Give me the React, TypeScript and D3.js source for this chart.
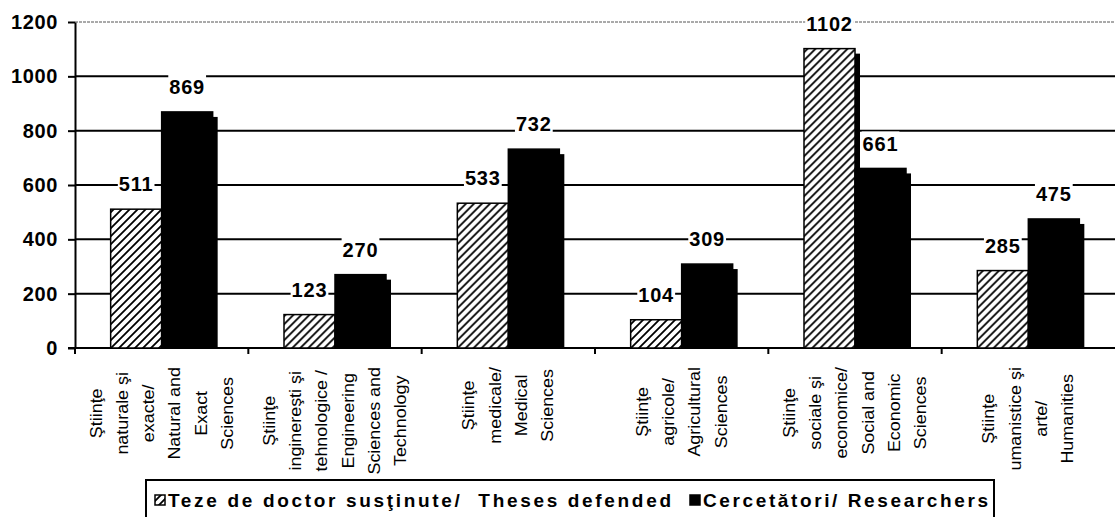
import React, { useEffect, useRef } from 'react'
import * as d3 from 'd3'

const categories = ['natural', 'engineering', 'medical', 'agricultural', 'social', 'humanities']
const categoryLines = [
    ['Ştiinţe', 'naturale şi', 'exacte/', 'Natural and', 'Exact', 'Sciences'],
    ['Ştiinţe', 'inginereşti şi', 'tehnologice /', 'Engineering', 'Sciences and', 'Technology'],
    ['Ştiinţe', 'medicale/', 'Medical', 'Sciences'],
    ['Ştiinţe', 'agricole/', 'Agricultural', 'Sciences'],
    ['Ştiinţe', 'sociale şi', 'economice/', 'Social and', 'Economic', 'Sciences'],
    ['Ştiinţe', 'umanistice şi', 'arte/', 'Humanities'],
]
const theses = [511, 123, 533, 104, 1102, 285]
const researchers = [869, 270, 732, 309, 661, 475]
const yTicks = [0, 200, 400, 600, 800, 1000, 1200]
const seriesKeys = ['theses', 'researchers']
const seriesNames = ['Teze de doctor susţinute/  Theses defended', 'Cercetători/ Researchers']

const FONT = '"Liberation Sans", Arial, sans-serif'

const App = () => {
    const ref = useRef<SVGSVGElement>(null)

    useEffect(() => {
        const svg = d3.select(ref.current)
        svg.selectAll('*').remove()

        const left = 75, right = 1115, top = 22, bottom = 348
        const barW = 51
        const shadow = 5

        const x = d3.scaleBand().domain(categories).range([left, right])
        const y = d3.scaleLinear().domain([0, 1200]).range([bottom, top])
        const xs = d3.scaleBand().domain(seriesKeys)
            .range([x.bandwidth() / 2 - barW, x.bandwidth() / 2 + barW])

        const defs = svg.append('defs')
        const pat = defs.append('pattern')
            .attr('id', 'hatch')
            .attr('patternUnits', 'userSpaceOnUse')
            .attr('width', 8)
            .attr('height', 8)
        pat.append('rect').attr('width', 8).attr('height', 8).attr('fill', '#fff')
        pat.append('path')
            .attr('d', 'M-2,2 L2,-2 M0,8 L8,0 M6,10 L10,6')
            .attr('stroke', '#000')
            .attr('stroke-width', 1.8)
        defs.append('clipPath').attr('id', 'plotclip')
            .append('rect').attr('x', left).attr('y', 0).attr('width', right - left).attr('height', bottom)

        const g = svg.append('g')

        // gridlines
        g.selectAll('line.grid')
            .data(yTicks.filter(t => t > 0))
            .join('line')
            .attr('class', 'grid')
            .attr('x1', left)
            .attr('x2', right)
            .attr('y1', d => y(d))
            .attr('y2', d => y(d))
            .attr('stroke', d => d === 1200 ? '#555' : '#000')
            .attr('stroke-width', d => d === 1200 ? 1 : 2)
            .attr('stroke-dasharray', d => d === 1200 ? '3,1' : null)

        // y axis
        const yAxis = g.append('g')
            .attr('transform', `translate(${left},0)`)
            .call(d3.axisLeft(y).tickValues(yTicks).tickFormat(d3.format('d')).tickSize(7).tickSizeOuter(0).tickPadding(10))
        yAxis.attr('font-family', FONT).attr('font-size', 20)
        yAxis.select('.domain').attr('stroke-width', 2)
        yAxis.selectAll('.tick line').attr('stroke-width', 2)
        yAxis.selectAll('.tick text')
            .attr('font-weight', 'bold')
            .attr('fill', '#000')
            .attr('letter-spacing', 0.6)

        // x axis
        g.append('line')
            .attr('x1', left - 7)
            .attr('x2', right)
            .attr('y1', bottom)
            .attr('y2', bottom)
            .attr('stroke', '#000')
            .attr('stroke-width', 2)
        g.selectAll('line.xtick')
            .data(categories)
            .join('line')
            .attr('class', 'xtick')
            .attr('x1', d => x(d) as number)
            .attr('x2', d => x(d) as number)
            .attr('y1', bottom)
            .attr('y2', bottom + 6)
            .attr('stroke', '#000')
            .attr('stroke-width', 2)

        const rows = categories.map((c, i) => ({ c, values: [theses[i], researchers[i]] }))

        const cat = g.selectAll('g.cat')
            .data(rows)
            .join('g')
            .attr('class', 'cat')
            .attr('transform', d => `translate(${x(d.c)},0)`)

        seriesKeys.forEach((key, si) => {
            // drop shadow
            cat.append('rect')
                .attr('clip-path', 'url(#plotclip)')
                .attr('x', (xs(key) as number) + shadow)
                .attr('y', d => y(d.values[si]) + shadow)
                .attr('width', barW)
                .attr('height', d => bottom - y(d.values[si]))
                .attr('fill', '#000')
            cat.append('rect')
                .attr('x', xs(key) as number)
                .attr('y', d => y(d.values[si]))
                .attr('width', barW)
                .attr('height', d => bottom - y(d.values[si]))
                .attr('fill', si === 0 ? 'url(#hatch)' : '#000')
                .attr('stroke', '#000')
                .attr('stroke-width', 1.5)
        })

        // value labels with white background
        seriesKeys.forEach((key, si) => {
            cat.each(function (d) {
                const lg = d3.select(this).append('g')
                const bg = lg.append('rect').attr('fill', '#fff')
                const t = lg.append('text')
                    .attr('x', (xs(key) as number) + barW / 2)
                    .attr('y', y(d.values[si]) - 25)
                    .attr('dy', '0.36em')
                    .attr('text-anchor', 'middle')
                    .attr('font-family', FONT)
                    .attr('font-size', 20)
                    .attr('font-weight', 'bold')
                    .attr('letter-spacing', 0.8)
                    .text(d.values[si])
                const bb = (t.node() as SVGTextElement).getBBox()
                bg.attr('x', bb.x - 1)
                    .attr('y', y(d.values[si]) - 25 - 12)
                    .attr('width', bb.width + 2)
                    .attr('height', 24)
            })
        })

        // category labels, rotated
        const lineGap = 26.3
        const stretch = 1.12
        const labelTop = 367
        rows.forEach((r, i) => {
            const lines = categoryLines[i]
            const cx = (x(r.c) as number) + x.bandwidth() / 2
            const texts = lines.map(line => g.append('text')
                .attr('text-anchor', 'middle')
                .attr('dy', '0.35em')
                .attr('font-family', FONT)
                .attr('font-size', 16)
                .attr('fill', '#000')
                .text(line))
            const maxLen = d3.max(texts, t => (t.node() as SVGTextElement).getComputedTextLength()) as number
            const block = maxLen * stretch
            texts.forEach((t, j) => {
                const off = (j - (lines.length - 1) / 2) * lineGap
                t.attr('transform', `translate(${cx + off},${labelTop + block / 2}) rotate(-90) scale(${stretch},1)`)
            })
        })

        // legend
        const legend = svg.append('g')
        legend.append('rect')
            .attr('x', 146)
            .attr('y', 480)
            .attr('width', 848)
            .attr('height', 60)
            .attr('fill', '#fff')
            .attr('stroke', '#000')
            .attr('stroke-width', 2)
        const legendX = [155, 690]
        const legendTextX = [168, 703]
        const legendLen = [503, 285]
        seriesNames.forEach((name, i) => {
            legend.append('rect')
                .attr('x', legendX[i])
                .attr('y', 495)
                .attr('width', 10)
                .attr('height', 10)
                .attr('fill', i === 0 ? 'url(#hatch)' : '#000')
                .attr('stroke', '#000')
                .attr('stroke-width', 1.5)
            legend.append('text')
                .attr('x', legendTextX[i])
                .attr('y', 506.5)
                .attr('font-family', FONT)
                .attr('font-size', 19)
                .attr('font-weight', 'bold')
                .attr('textLength', legendLen[i])
                .attr('lengthAdjust', 'spacing')
                .attr('xml:space', 'preserve')
                .style('white-space', 'pre')
                .text(name)
        })
    }, [])

    return (
        <svg
            ref={ref}
            width={1115}
            height={517}
            viewBox='0 0 1115 517'
            style={{ position: 'absolute', left: 0, top: 0, background: '#fff' }}
        />
    )
}

export default App
